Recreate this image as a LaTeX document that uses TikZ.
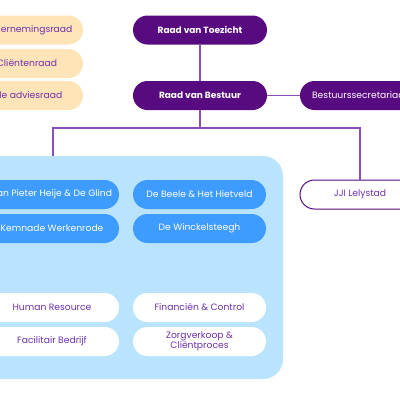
\documentclass[tikz,border=0pt]{standalone}
\usepackage{fontspec}
\setmainfont{Poppins}
\definecolor{paars}{HTML}{580A80}
\definecolor{lijn}{HTML}{8A4FB8}
\definecolor{tekst}{HTML}{7030AA}
\definecolor{room}{HTML}{FFE4B8}
\definecolor{lichtblauw}{HTML}{BAE3FD}
\definecolor{blauw}{HTML}{3E9BFF}
\begin{document}
\begin{tikzpicture}[x=1pt, y=-1pt, font=\fontsize{9.2}{10.5}\selectfont,
	box/.style = {rounded corners=14.5pt, minimum height=29pt, inner sep=2pt, align=center},
	raad/.style = {box, fill=room, text=tekst, minimum width=112pt},
	top/.style = {box, fill=paars, text=white, minimum width=134pt, font=\fontsize{9}{10.5}\selectfont\bfseries},
	loc/.style = {box, fill=blauw, text=white, minimum width=134pt},
	dienst/.style = {box, fill=white, text=tekst, minimum width=134pt},
	line/.style = {draw=lijn, line width=1.4pt}]

		\useasboundingbox (0,0) rectangle (400,400);
		\clip (0,0) rectangle (400,400);

		\node[raad] (1) at (27,30) {Ondernemingsraad};
		\node[raad] (2) at (27,63.5) {Cliëntenraad};
		\node[raad, minimum width=136pt] (3) at (15,95.5) {Centrale adviesraad};

		\node[top] (4) at (200,30) {Raad van Toezicht};
		\node[top] (5) at (200,95.5) {Raad van Bestuur};
		\node[box, fill=paars, text=white, minimum width=120pt] (6) at (360,95.5) {Bestuurssecretariaat};

		\node[fill=lichtblauw, rounded corners=20pt, minimum width=303pt, minimum height=223pt, inner sep=0pt] (7) at (131.5,267.5) {};
		\node[loc] (8) at (52,194.5) {Jan Pieter Heije \& De Glind};
		\node[loc] (9) at (52,228.5) {Kemnade Werkenrode};
		\node[loc, minimum width=133pt] (10) at (199.5,194.5) {De Beele \& Het Hietveld};
		\node[loc, minimum width=133pt] (11) at (199.5,228.5) {De Winckelsteegh};
		\node[dienst] (12) at (52,307.5) {Human Resource};
		\node[dienst] (13) at (52,341.5) {Facilitair Bedrijf};
		\node[dienst, minimum width=133pt] (14) at (199.5,307.5) {Financiën \& Control};
		\node[dienst, minimum width=133pt] (15) at (199.5,341.5) {Zorgverkoop \&\\[-1pt] Cliëntproces};

		\node[box, draw=paars, line width=1pt, fill=white, text=tekst, minimum width=120pt] (16) at (360,194.5) {JJI Lelystad};

		\coordinate (a) at (200,128);
		\coordinate (b) at (53,156);

		\draw[line] (4) -- (5);
		\draw[line] (5) -- (6);
		\draw[line] (5) -- (a);
		\draw[line] (b) -- ++(0,-28) -| (16.north);
	\end{tikzpicture}
\end{document}
